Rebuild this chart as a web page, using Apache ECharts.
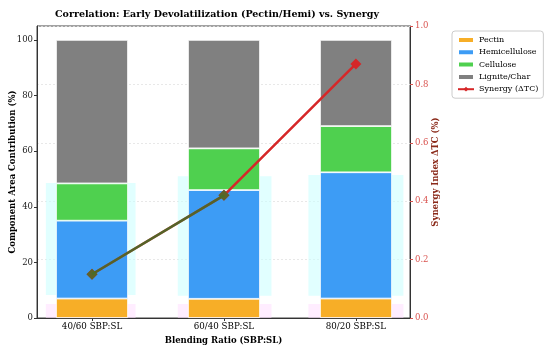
<!DOCTYPE html>
<html><head><meta charset="utf-8">
<script src="https://cdn.jsdelivr.net/npm/echarts@6/dist/echarts.min.js"></script>
<style>html,body{margin:0;padding:0;background:#fff}#c{width:550px;height:347px}</style>
</head><body><div id="c"></div>
<script>
const categories = ['40/60 SBP:SL', '60/40 SBP:SL', '80/20 SBP:SL'];
const pectin = [7.0, 6.9, 7.0];
const hemicellulose = [28.0, 39.1, 45.4];
const cellulose = [13.4, 15.0, 16.6];
const ligniteChar = [51.6, 39.0, 31.0];
const synergy = [0.15, 0.42, 0.87];
const leftTicks = [0, 20, 40, 60, 80, 100];
const rightTicks = [0, 0.2, 0.4, 0.6, 0.8, 1.0];

const serif = 'DejaVu Serif';
const xy = arr => arr.map((v, i) => [i, v]);
const barBase = {type: 'bar', stack: 'comp', barWidth: 72, xAxisIndex: 0, yAxisIndex: 0, z: 3};
const bs = c => ({color: c, borderColor: '#fff', borderWidth: 0.8});
const chart = echarts.init(document.getElementById('c'), null, {renderer: 'canvas'});
chart.setOption({
  animation: false,
  backgroundColor: '#fff',
  title: {text: 'Correlation: Early Devolatilization (Pectin/Hemi) vs. Synergy', left: 212, textAlign: 'center', top: 5,
    textStyle: {fontFamily: serif, fontWeight: 'bold', fontSize: 9.5, color: '#000'}},
  grid: [
    {left: 26, right: 128, top: 26, bottom: 29, show: false, containLabel: false, outerBoundsMode: 'none'},
    {left: 37, right: 140, top: 26, bottom: 29, show: true, borderColor: '#444', borderWidth: 1, backgroundColor: 'transparent', containLabel: false, outerBoundsMode: 'none'}
  ],
  legend: {left: 452, top: 31, orient: 'vertical', itemGap: 4.3, padding: [5, 5, 5, 5], borderColor: '#ccc', borderWidth: 1, borderRadius: 3,
    itemWidth: 16, itemHeight: 6, textStyle: {fontFamily: serif, fontSize: 8.0, color: '#000'},
    data: [{name: 'Pectin', icon: 'rect'}, {name: 'Hemicellulose', icon: 'rect'}, {name: 'Cellulose', icon: 'rect'}, {name: 'Lignite/Char', icon: 'rect'}, {name: 'Synergy (ΔTC)'}]},
  xAxis: [
    {type: 'category', gridIndex: 0, data: categories, boundaryGap: true, show: false},
    {type: 'value', gridIndex: 1, min: -0.417, max: 2.41,
      name: 'Blending Ratio (SBP:SL)', nameLocation: 'middle', nameGap: 16,
      nameTextStyle: {fontFamily: serif, fontWeight: 'bold', fontSize: 8.5, color: '#000'},
      axisLine: {show: true, onZero: false, lineStyle: {color: '#333'}}, splitLine: {show: false},
      axisTick: {show: true, customValues: [0, 1, 2], length: 3, lineStyle: {color: '#333'}},
      axisLabel: {customValues: [0, 1, 2], formatter: v => categories[Math.round(v)], fontFamily: serif, fontSize: 8.7, color: '#000', margin: 4}}
  ],
  yAxis: [
    {type: 'value', gridIndex: 0, min: 0, max: 105, show: false, splitLine: {show: false}},
    {type: 'value', gridIndex: 1, min: 0, max: 105,
      name: 'Component Area Contribution (%)', nameLocation: 'middle', nameGap: 20, nameMoveOverlap: false,
      nameTextStyle: {fontFamily: serif, fontWeight: 'bold', fontSize: 8.5, color: '#000'},
      axisLine: {show: true, onZero: false, lineStyle: {color: '#333'}}, axisTick: {show: true, length: 3, customValues: leftTicks},
      axisLabel: {fontFamily: serif, fontSize: 8.5, color: '#222', margin: 4, customValues: leftTicks},
      splitLine: {show: false}},
    {type: 'value', gridIndex: 1, min: 0, max: 1.0, interval: 0.2, position: 'right',
      name: 'Synergy Index ΔTC (%)', nameLocation: 'middle', nameGap: 21, nameMoveOverlap: false,
      nameTextStyle: {fontFamily: serif, fontWeight: 'bold', fontSize: 8.5, color: '#8b2a1a'},
      axisLine: {show: true, onZero: false, lineStyle: {color: '#333'}}, axisTick: {show: true, length: 3, lineStyle: {color: '#d9534f'}},
      axisLabel: {fontFamily: serif, fontSize: 8.5, color: '#d9534f', margin: 5, formatter: v => v.toFixed(1)},
      splitLine: {show: true, lineStyle: {color: '#e2e2e2', type: [2, 2], width: 0.8}}}
  ],
  series: [
    {name: 'shade', type: 'line', xAxisIndex: 1, yAxisIndex: 1, data: [], z: 1, silent: true,
      markArea: {silent: true, z: 1, itemStyle: {color: 'rgba(200,255,255,0.55)'}, data: [
        [{coord: [-0.35, 8.3]}, {coord: [0.33, 48.5]}],
        [{coord: [0.65, 8]}, {coord: [1.36, 51]}],
        [{coord: [1.64, 8]}, {coord: [2.36, 51.4]}],
      ]}},
    {name: 'shade2', type: 'line', xAxisIndex: 1, yAxisIndex: 1, data: [], z: 1, silent: true,
      markArea: {silent: true, z: 1, itemStyle: {color: 'rgba(255,220,255,0.5)'}, data: [
        [{coord: [-0.35, 0]}, {coord: [0.33, 5]}],
        [{coord: [0.65, 0]}, {coord: [1.36, 5]}],
        [{coord: [1.64, 0]}, {coord: [2.36, 5]}]
      ]}},
    Object.assign({}, barBase, {name: 'Pectin', data: pectin, itemStyle: bs('#f7ae27')}),
    Object.assign({}, barBase, {name: 'Hemicellulose', data: hemicellulose, itemStyle: bs('#3d9cf5')}),
    Object.assign({}, barBase, {name: 'Cellulose', data: cellulose, itemStyle: bs('#4fd04f')}),
    Object.assign({}, barBase, {name: 'Lignite/Char', data: ligniteChar, itemStyle: bs('#808080')}),
    {name: 'Synergy (ΔTC)', type: 'line', xAxisIndex: 1, yAxisIndex: 2, data: xy(synergy), z: 5,
      lineStyle: {color: '#d62728', width: 2.5}, itemStyle: {color: '#d62728'}, symbol: 'diamond', symbolSize: 11},
    {name: 'overlay', type: 'line', xAxisIndex: 1, yAxisIndex: 2, data: xy(synergy.slice(0, 2)), z: 6,
      lineStyle: {color: 'rgba(40,120,40,0.75)', width: 2.5}, itemStyle: {color: 'rgba(70,110,40,0.85)'}, symbol: 'diamond', symbolSize: 11}
  ]
});
</script></body></html>
